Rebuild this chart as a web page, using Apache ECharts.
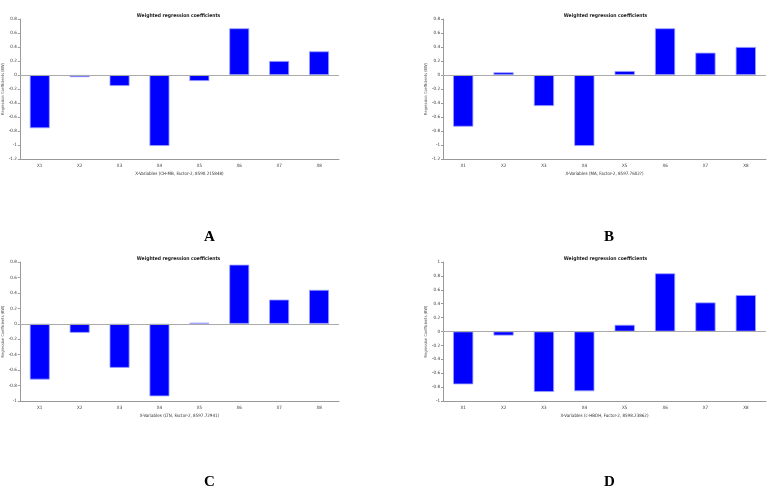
<!DOCTYPE html>
<html><head><meta charset="utf-8">
<script src="https://cdn.jsdelivr.net/npm/echarts@6/dist/echarts.min.js"></script>
<style>html,body{margin:0;padding:0;background:#fff}#c{width:773px;height:495px}</style>
</head><body><div id="c"></div>
<script>
const categories = ['X1','X2','X3','X4','X5','X6','X7','X8'];
const valuesA = [-0.76, -0.03, -0.157, -1.014, -0.086, 0.667, 0.2, 0.338];
const valuesB = [-0.738, 0.038, -0.443, -1.014, 0.057, 0.667, 0.319, 0.4];
const valuesC = [-0.722, -0.117, -0.57, -0.939, 0.013, 0.765, 0.313, 0.439];
const valuesD = [-0.76, -0.058, -0.87, -0.86, 0.096, 0.837, 0.418, 0.524];
const xNames = [
  'X-Variables (CH-MB, Factor-2, 8590.215848)',
  'X-Variables (MA, Factor-2, 8597.7602?)',
  'X-Variables (LTN, Factor-2, 8597.72941)',
  'X-Variables (c-HBDH, Factor-2, 8598.23862)'
];
const yRanges = [[-1.2, 0.8], [-1.2, 0.8], [-1, 0.8], [-1, 1]];
const panelLetters = ['A', 'B', 'C', 'D'];
const chartTitle = 'Weighted regression coefficients';
const yName = 'Regression Coefficients (BW)';

const font = 'Liberation Sans Narrow, DejaVu Sans Condensed, sans-serif';
const grids = [
  {left: 16, top: 19, width: 323, height: 140},
  {left: 443, top: 19, width: 323, height: 140},
  {left: 16, top: 262, width: 323, height: 139},
  {left: 443, top: 262, width: 323, height: 139}
];
const letterPos = [[210, 238], [610, 238], [210, 483], [610, 483]];
const allValues = [valuesA, valuesB, valuesC, valuesD];

const option = {
  backgroundColor: '#fff',
  animation: false,
  title: grids.map((g, i) => ({
    text: chartTitle, left: g.left + g.width / 2 - 4, top: g.top - 11, textAlign: 'center',
    textStyle: {fontSize: 5, fontWeight: 'bold', color: '#222', fontFamily: font}
  })),
  grid: grids.map(g => Object.assign({containLabel: false}, g)),
  xAxis: grids.map((g, i) => ({
    type: 'category', gridIndex: i, data: categories,
    name: xNames[i], nameLocation: 'middle', nameGap: 12,
    nameTextStyle: {fontSize: 4.5, color: '#333', fontFamily: font},
    axisLine: {onZero: false, lineStyle: {color: '#999', width: 1}},
    axisTick: {alignWithLabel: true, length: 2, lineStyle: {color: '#999'}},
    axisLabel: {fontSize: 4.5, color: '#333', margin: 4, fontFamily: font},
    splitLine: {show: false}
  })),
  yAxis: grids.map((g, i) => ({
    type: 'value', gridIndex: i, min: yRanges[i][0], max: yRanges[i][1], interval: 0.2,
    name: yName, nameLocation: 'middle', nameGap: 9,
    nameTextStyle: {fontSize: 4, color: '#555', fontFamily: font},
    axisLine: {show: true, lineStyle: {color: '#999', width: 1}},
    axisTick: {show: true, length: 2, lineStyle: {color: '#999'}},
    axisLabel: {fontSize: 4.5, color: '#333', margin: 3, fontFamily: font,
      formatter: v => String(Math.round(v * 10) / 10)},
    splitLine: {show: false}
  })),
  series: allValues.map((vals, i) => ({
    type: 'bar', xAxisIndex: i, yAxisIndex: i, data: vals, barWidth: '50%',
    itemStyle: {color: '#0000ff', borderColor: '#9aa0ff', borderWidth: 0.8},
    markLine: {silent: true, symbol: 'none', label: {show: false},
      lineStyle: {color: '#aaa', type: 'solid', width: 1}, data: [{yAxis: 0}]}
  })),
  graphic: letterPos.map((p, i) => ({
    type: 'text', left: p[0] - 6, top: p[1] - 8,
    style: {text: panelLetters[i], fontSize: 15, fontWeight: 'bold', fill: '#000',
      fontFamily: 'Liberation Serif, DejaVu Serif, serif'}
  }))
};
echarts.init(document.getElementById('c')).setOption(option);
</script></body></html>
